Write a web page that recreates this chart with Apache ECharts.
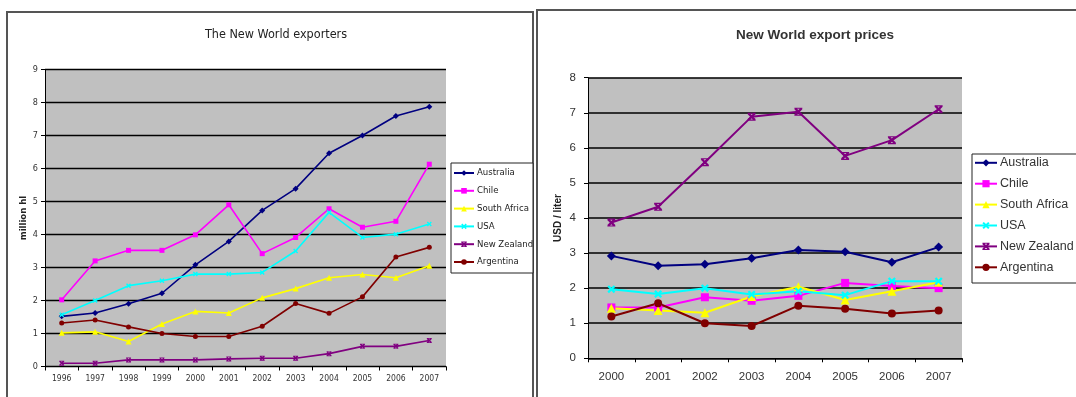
<!DOCTYPE html>
<html>
<head>
<meta charset="utf-8">
<script src="https://cdn.jsdelivr.net/npm/echarts@6/dist/echarts.min.js"></script>
<style>
  html, body { margin: 0; padding: 0; background: #ffffff; }
  #chart { width: 1076px; height: 397px; }
</style>
</head>
<body>
<div id="chart"></div>
<script>
// Wine export volumes (million hl) and prices (USD / liter) for New World producers
const countries = ['Australia', 'Chile', 'South Africa', 'USA', 'New Zealand', 'Argentina'];
const colors = ['#000080', '#ff00ff', '#ffff00', '#00ffff', '#800080', '#800000'];

const volumeYears = ['1996', '1997', '1998', '1999', '2000', '2001', '2002', '2003', '2004', '2005', '2006', '2007'];
const volAustralia   = [1.52, 1.62, 1.90, 2.22, 3.08, 3.79, 4.73, 5.39, 6.46, 7.00, 7.59, 7.87];
const volChile       = [2.02, 3.20, 3.52, 3.52, 3.99, 4.90, 3.42, 3.91, 4.78, 4.22, 4.40, 6.13];
const volSouthAfrica = [1.02, 1.05, 0.76, 1.29, 1.67, 1.62, 2.08, 2.36, 2.69, 2.79, 2.69, 3.05];
const volUSA         = [1.57, 2.00, 2.45, 2.60, 2.80, 2.80, 2.85, 3.50, 4.67, 3.91, 4.01, 4.32];
const volNewZealand  = [0.10, 0.10, 0.20, 0.20, 0.20, 0.23, 0.25, 0.25, 0.39, 0.61, 0.61, 0.79];
const volArgentina   = [1.32, 1.41, 1.20, 1.00, 0.91, 0.91, 1.22, 1.91, 1.61, 2.11, 3.32, 3.61];

const priceYears = ['2000', '2001', '2002', '2003', '2004', '2005', '2006', '2007'];
const priceAustralia   = [2.92, 2.64, 2.68, 2.85, 3.09, 3.04, 2.74, 3.17];
const priceChile       = [1.45, 1.45, 1.74, 1.64, 1.78, 2.15, 2.06, 2.00];
const priceSouthAfrica = [1.43, 1.36, 1.30, 1.76, 2.04, 1.66, 1.91, 2.17];
const priceUSA         = [1.97, 1.83, 2.00, 1.82, 1.91, 1.80, 2.20, 2.20];
const priceNewZealand  = [3.87, 4.32, 5.59, 6.89, 7.03, 5.77, 6.22, 7.10];
const priceArgentina   = [1.19, 1.57, 1.00, 0.92, 1.50, 1.41, 1.28, 1.36];

const volumeTicks = [0, 9, 1];   // min, max, step
const priceTicks = [0, 8, 1];

const volumes = [volAustralia, volChile, volSouthAfrica, volUSA, volNewZealand, volArgentina];
const prices = [priceAustralia, priceChile, priceSouthAfrica, priceUSA, priceNewZealand, priceArgentina];

// marker shapes: diamond, square, triangle, cross, star, circle
const crossPath = 'path://M0,2L2,0L5,3L8,0L10,2L7,5L10,8L8,10L5,7L2,10L0,8L3,5Z';
const starPath = 'path://M0,2L2,0L5,3L8,0L10,2L7,5L10,8L8,10L5,7L2,10L0,8L3,5Z M0,0L10,0L10,1.4L0,1.4Z M0,8.6L10,8.6L10,10L0,10Z';
const symbols = ['diamond', 'rect', 'triangle', crossPath, starPath, 'circle'];
const leftSizes = [6, 5, 6, 5, 5, 5];
const rightSizes = [9, 8, 9, 8, 8, 8];

const narrow = '"Liberation Sans Narrow", "Arial Narrow", "DejaVu Sans Condensed", "Liberation Sans", sans-serif';
const regular = '"Liberation Sans", Arial, sans-serif';

const series = [];
countries.forEach((name, i) => {
  series.push({
    name: name, type: 'line', xAxisIndex: 0, yAxisIndex: 0,
    data: volumes[i], symbol: symbols[i], symbolSize: leftSizes[i],
    lineStyle: { width: 1.6, color: colors[i] },
    itemStyle: { color: colors[i] },
    animation: false
  });
});
countries.forEach((name, i) => {
  series.push({
    name: name, type: 'line', xAxisIndex: 1, yAxisIndex: 1,
    data: prices[i], symbol: symbols[i], symbolSize: rightSizes[i],
    lineStyle: { width: 2, color: colors[i] },
    itemStyle: { color: colors[i] },
    animation: false
  });
});

function valueAxis(ticks, grid, font, size, labelMargin, name, nameGap, nameFont, nameSize, lineW) {
  return {
    type: 'value', gridIndex: grid, min: ticks[0], max: ticks[1], interval: ticks[2],
    name: name, nameLocation: 'middle', nameGap: nameGap, nameRotate: 90,
    nameTextStyle: { fontFamily: nameFont, fontSize: nameSize, fontWeight: 'bold', color: '#222' },
    axisLine: { show: true, lineStyle: { color: '#000', width: 1 } },
    axisTick: { show: true, length: 4, lineStyle: { color: '#000' } },
    axisLabel: { fontFamily: font, fontSize: size, color: '#333', margin: labelMargin },
    splitLine: { show: true, lineStyle: { color: '#000', width: lineW } }
  };
}
function categoryAxis(cats, grid, font, size, labelMargin) {
  return {
    type: 'category', gridIndex: grid, data: cats, boundaryGap: true,
    axisLine: { show: true, lineStyle: { color: '#000', width: 1 } },
    axisTick: { show: true, length: 4, alignWithLabel: false, lineStyle: { color: '#000' } },
    axisLabel: { fontFamily: font, fontSize: size, color: '#333', margin: labelMargin, interval: 0 },
    splitLine: { show: false }
  };
}

const chart = echarts.init(document.getElementById('chart'), null, { renderer: 'canvas' });
chart.setOption({
  animation: false,
  backgroundColor: '#ffffff',
  title: [
    { text: 'The New World exporters', left: 271, top: 23, textAlign: 'center',
      textStyle: { fontFamily: narrow, fontSize: 12.5, fontWeight: 'normal', color: '#222' } },
    { text: 'New World export prices', left: 810, top: 23, textAlign: 'center',
      textStyle: { fontFamily: regular, fontSize: 13.5, fontWeight: 'bold', color: '#333' } }
  ],
  grid: [
    { left: 45, top: 69.5, width: 401, height: 297, show: true, backgroundColor: '#c0c0c0', borderWidth: 0 },
    { left: 588, top: 77.7, width: 374, height: 280.6, show: true, backgroundColor: '#c0c0c0', borderWidth: 0 }
  ],
  xAxis: [
    categoryAxis(volumeYears, 0, narrow, 8.5, 8),
    categoryAxis(priceYears, 1, regular, 11.5, 13)
  ],
  yAxis: [
    valueAxis(volumeTicks, 0, narrow, 9, 7, 'million hl', 15, narrow, 9.5, 1.3),
    valueAxis(priceTicks, 1, regular, 11.5, 12, 'USD / liter', 25, regular, 10, 1.6)
  ],
  legend: [
    { orient: 'vertical', left: 453, top: 168, itemWidth: 20, itemHeight: 7, itemGap: 7.8, padding: 0,
      data: countries, selectedMode: false,
      textStyle: { fontFamily: narrow, fontSize: 9.5, color: '#222', padding: [0, 0, 0, -2] } },
    { orient: 'vertical', left: 974, top: 156.3, itemWidth: 22, itemHeight: 9, itemGap: 7.9, padding: 0,
      data: countries, selectedMode: false,
      textStyle: { fontFamily: regular, fontSize: 12.5, color: '#333', padding: [0, 0, 0, -2] } }
  ],
  graphic: [
    { type: 'rect', z: -10, silent: true, shape: { x: 7, y: 12, width: 526, height: 400 },
      style: { fill: 'none', stroke: '#555', lineWidth: 2 } },
    { type: 'rect', z: -10, silent: true, shape: { x: 537, y: 10, width: 600, height: 400 },
      style: { fill: 'none', stroke: '#555', lineWidth: 2 } },
    { type: 'rect', z: -5, silent: true, shape: { x: 451, y: 163, width: 82, height: 110 },
      style: { fill: '#ffffff', stroke: '#222', lineWidth: 1 } },
    { type: 'rect', z: -5, silent: true, shape: { x: 972, y: 154, width: 120, height: 129 },
      style: { fill: '#ffffff', stroke: '#222', lineWidth: 1 } }
  ],
  series: series
});
</script>
</body>
</html>
